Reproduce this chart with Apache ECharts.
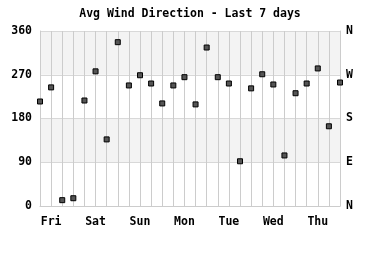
<!DOCTYPE html>
<html>
<head>
<meta charset="utf-8">
<script src="https://cdn.jsdelivr.net/npm/echarts@6/dist/echarts.min.js"></script>
<style>
html,body{margin:0;padding:0;background:#fff;}
#c{width:380px;height:260px;}
</style>
</head>
<body>
<div id="c"></div>
<script>
var titleText = 'Avg Wind Direction - Last 7 days';
var days = ['Fri', 'Sat', 'Sun', 'Mon', 'Tue', 'Wed', 'Thu'];
var compass = ['N', 'E', 'S', 'W', 'N'];
var yTicks = [0, 90, 180, 270, 360];
var hours = [0, 6, 12, 18, 24, 30, 36, 42, 48, 54, 60, 66, 72, 78, 84, 90, 96, 102, 108, 114, 120, 126, 132, 138, 144, 150, 156, 162];
var directions = [215, 244, 12, 16, 217, 277, 137, 337, 248, 269, 252, 211, 248, 265, 209, 326, 265, 252, 92, 242, 271, 250, 104, 232, 252, 283, 164, 254];

var points = hours.map(function (h, i) { return [h, directions[i]]; });
var font = '"DejaVu Sans Mono", monospace';
var chart = echarts.init(document.getElementById('c'), null, {renderer: 'canvas'});
chart.setOption({
  animation: false,
  backgroundColor: '#ffffff',
  title: {
    text: titleText,
    left: 'center',
    top: 3,
    textStyle: {fontFamily: font, fontSize: 11.5, fontWeight: 'bold', color: '#000'}
  },
  grid: {left: 40, right: 40, top: 31, bottom: 54, containLabel: false},
  xAxis: {
    type: 'value',
    min: 0,
    max: 162,
    interval: 6,
    axisLine: {show: true, lineStyle: {color: '#cccccc', width: 1}},
    axisTick: {show: false},
    splitLine: {show: true, lineStyle: {color: '#cccccc', width: 1}},
    axisLabel: {
      margin: 10,
      fontFamily: font, fontSize: 11.5, fontWeight: 'bold', color: '#000',
      formatter: function (v) {
        var k = (v - 6) / 24;
        return (k >= 0 && k === Math.floor(k) && days[k]) ? days[k] : '';
      }
    }
  },
  yAxis: [{
    type: 'value',
    min: 0,
    max: 360,
    interval: 90,
    position: 'left',
    axisLine: {show: true, lineStyle: {color: '#cccccc'}},
    axisTick: {show: false},
    splitLine: {show: true, lineStyle: {color: '#d8d8d8'}},
    splitArea: {show: true, areaStyle: {color: ['#ffffff', '#f3f3f3']}},
    axisLabel: {
      margin: 8,
      fontFamily: font, fontSize: 11.5, fontWeight: 'bold', color: '#000',
      formatter: function (v) { return String(v); }
    }
  }, {
    type: 'value',
    min: 0,
    max: 360,
    interval: 90,
    position: 'right',
    axisLine: {show: true, lineStyle: {color: '#cccccc'}},
    axisTick: {show: false},
    splitLine: {show: false},
    axisLabel: {
      margin: 6,
      fontFamily: font, fontSize: 11.5, fontWeight: 'bold', color: '#000',
      formatter: function (v) { return compass[yTicks.indexOf(v)] || ''; }
    }
  }],
  series: [{
    type: 'scatter',
    data: points,
    symbol: 'rect',
    symbolSize: 5,
    clip: false,
    itemStyle: {color: '#555555', borderColor: '#000', borderWidth: 1, opacity: 1}
  }]
});
</script>
</body>
</html>
